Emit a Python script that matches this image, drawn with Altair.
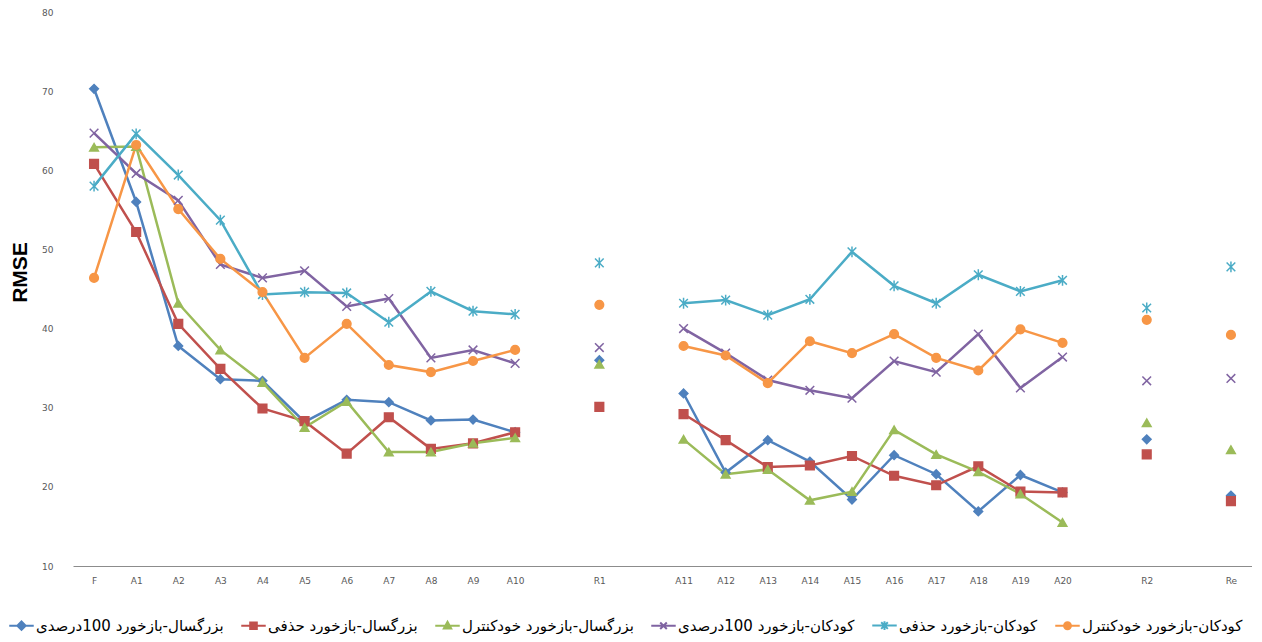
import altair as alt
import pandas as pd

categories = ["F", "A1", "A2", "A3", "A4", "A5", "A6", "A7", "A8", "A9", "A10", "R1",
              "A11", "A12", "A13", "A14", "A15", "A16", "A17", "A18", "A19", "A20", "R2", "Re"]
full_domain = ["F", "A1", "A2", "A3", "A4", "A5", "A6", "A7", "A8", "A9", "A10", " ", "R1", "  ",
               "A11", "A12", "A13", "A14", "A15", "A16", "A17", "A18", "A19", "A20", "   ", "R2", "    ", "Re"]
segments = [1] * 11 + [2] + [3] * 10 + [4] + [5]

series_names = [
    "بزرگسال-بازخورد 100درصدی",
    "بزرگسال-بازخورد حذفی",
    "بزرگسال-بازخورد خودکنترل",
    "کودکان-بازخورد 100درصدی",
    "کودکان-بازخورد حذفی",
    "کودکان-بازخورد خودکنترل",
]

adult_100 = [70.3, 56.0, 37.8, 33.6, 33.4, 28.2, 31.0, 30.7, 28.4, 28.5, 26.9, 36.0,
             31.8, 21.8, 25.9, 23.2, 18.4, 24.0, 21.6, 16.9, 21.5, 19.3, 26.0, 18.9]
adult_faded = [60.8, 52.2, 40.6, 34.9, 29.9, 28.3, 24.2, 28.8, 24.8, 25.5, 26.9, 30.1,
               29.2, 25.9, 22.5, 22.7, 23.9, 21.4, 20.2, 22.6, 19.4, 19.3, 24.1, 18.2]
adult_self = [62.9, 63.0, 43.2, 37.3, 33.2, 27.5, 30.8, 24.4, 24.4, 25.5, 26.2, 35.5,
              26.0, 21.6, 22.2, 18.3, 19.4, 27.2, 24.1, 21.9, 19.1, 15.5, 28.1, 24.7]
child_100 = [64.7, 59.6, 56.2, 48.1, 46.4, 47.3, 42.8, 43.8, 36.3, 37.3, 35.6, 37.6,
             40.0, 36.9, 33.5, 32.2, 31.2, 35.9, 34.5, 39.3, 32.5, 36.4, 33.4, 33.7]
child_faded = [58.0, 64.6, 59.4, 53.7, 44.3, 44.6, 44.5, 40.8, 44.7, 42.2, 41.8, 48.3,
               43.2, 43.6, 41.7, 43.7, 49.7, 45.4, 43.2, 46.8, 44.7, 46.1, 42.6, 47.8]
child_self = [46.4, 63.2, 55.1, 48.8, 44.6, 36.3, 40.6, 35.4, 34.5, 35.9, 37.3, 43.0,
              37.8, 36.6, 33.1, 38.4, 36.9, 39.3, 36.3, 34.7, 39.9, 38.2, 41.1, 39.2]

colors = ["#4F81BD", "#C0504D", "#9BBB59", "#8064A2", "#4BACC6", "#F79646"]
point_fills = ["#4F81BD", "#C0504D", "#9BBB59", "transparent", "transparent", "#F79646"]
point_shapes = [
    "diamond",
    "square",
    "triangle-up",
    "M-1,-1L1,1M-1,1L1,-1",
    "M-1,-1L1,1M-1,1L1,-1M0,-1.25L0,1.25",
    "circle",
]
L = "M-1,0L1,0"
legend_shapes = [
    L + "M0,-0.34L0.34,0L0,0.34L-0.34,0Z",
    L + "M-0.27,-0.27L0.27,-0.27L0.27,0.27L-0.27,0.27Z",
    L + "M0,-0.32L0.3,0.22L-0.3,0.22Z",
    L + "M-0.27,-0.27L0.27,0.27M-0.27,0.27L0.27,-0.27",
    L + "M-0.27,-0.27L0.27,0.27M-0.27,0.27L0.27,-0.27M0,-0.36L0,0.36",
    L + "M0.28,0A0.28,0.28 0 1,1 -0.28,0A0.28,0.28 0 1,1 0.28,0Z",
]

rows = []
for name, vals in zip(series_names, [adult_100, adult_faded, adult_self, child_100, child_faded, child_self]):
    for c, s, v in zip(categories, segments, vals):
        rows.append({"series": name, "cat": c, "seg": s, "value": v})
df = pd.DataFrame(rows)

x_enc = alt.X("cat:N", sort=full_domain,
              scale=alt.Scale(domain=full_domain, type="point", padding=0.5),
              axis=alt.Axis(title=None, labelAngle=0, ticks=False, grid=False,
                            domainColor="#8c8c8c", domainWidth=1,
                            labelColor="#595959", labelFont="DejaVu Sans", labelFontSize=9,
                            labelPadding=10))
y_enc = alt.Y("value:Q",
              scale=alt.Scale(domain=[10, 80], nice=False, zero=False),
              axis=alt.Axis(values=[10, 20, 30, 40, 50, 60, 70, 80], grid=False, domain=False,
                            ticks=False, labelPadding=20, labelColor="#595959",
                            labelFont="DejaVu Sans", labelFontSize=9,
                            title="RMSE", titleFont="Liberation Sans", titleFontSize=21,
                            titleFontWeight="bold", titleColor="#000000",
                            titleX=-53, titleY=260, titleAngle=-90, titleBaseline="middle",
                            titleAlign="center"))

base = alt.Chart(df)

lines = base.mark_line(strokeWidth=2.5).encode(
    x=x_enc, y=y_enc,
    color=alt.Color("series:N", scale=alt.Scale(domain=series_names, range=colors), legend=None),
    detail="seg:N",
)

points = base.mark_point(filled=True, size=75, strokeWidth=1.5, opacity=1).encode(
    x=x_enc, y=y_enc,
    fill=alt.Fill("series:N", scale=alt.Scale(domain=series_names, range=point_fills), legend=None),
    stroke=alt.Stroke("series:N", scale=alt.Scale(domain=series_names, range=colors), legend=None),
    shape=alt.Shape("series:N", scale=alt.Scale(domain=series_names, range=point_shapes), legend=None),
)

leg = alt.Legend(orient="none", legendX=-65, legendY=600, direction="horizontal", title=None,
                 labelFont="DejaVu Sans", labelFontSize=15, labelColor="#000000",
                 symbolSize=600, symbolStrokeWidth=2, labelLimit=400, columnPadding=13,
                 labelOffset=1, symbolOpacity=1)

legend_layer = base.mark_point(filled=True).encode(
    x=x_enc, y=y_enc,
    fill=alt.Fill("series:N", scale=alt.Scale(domain=series_names, range=colors), legend=leg),
    stroke=alt.Stroke("series:N", scale=alt.Scale(domain=series_names, range=colors), legend=leg),
    shape=alt.Shape("series:N", scale=alt.Scale(domain=series_names, range=legend_shapes), legend=leg),
).transform_filter("false")

chart = alt.layer(lines, points, legend_layer).resolve_scale(
    fill="independent", stroke="independent", shape="independent"
).properties(width=1179, height=554, padding=0).configure_view(stroke=None)

chart.save("out.html", embed_options={"renderer": "svg", "actions": False})
